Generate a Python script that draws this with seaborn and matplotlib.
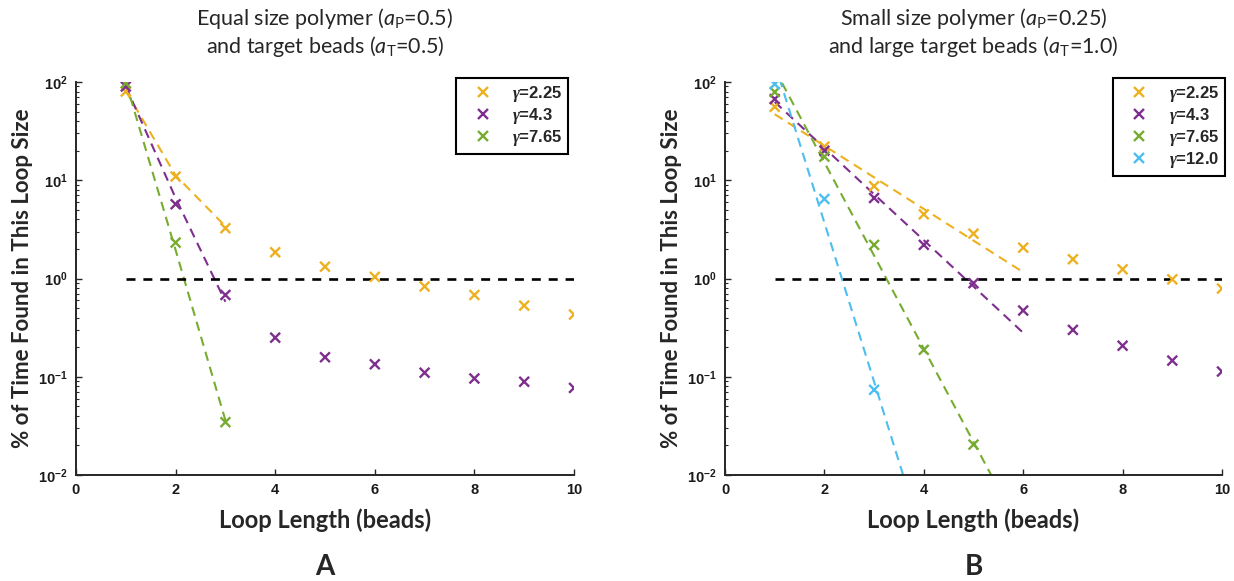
import numpy as np
import pandas as pd
import matplotlib
matplotlib.use("Agg")
import matplotlib.pyplot as plt
import seaborn as sns
from matplotlib.ticker import FixedLocator, FixedFormatter, LogLocator, NullFormatter

sns.set_theme(style="ticks")
plt.rcParams["font.family"] = ["Lato", "DejaVu Sans"]
plt.rcParams["mathtext.fontset"] = "custom"
plt.rcParams["mathtext.rm"] = "Lato"
plt.rcParams["mathtext.sf"] = "Lato:italic"
plt.rcParams["mathtext.it"] = "Liberation Serif:italic:bold"
plt.rcParams["mathtext.bf"] = "Liberation Sans:bold"

# ---- data -------------------------------------------------------------
loop_len = [1, 2, 3, 4, 5, 6, 7, 8, 9, 10]
gammas = ["2.25", "4.3", "7.65", "12.0"]
colors = ["#EDB120", "#7E2F8E", "#77AC30", "#4DBEEE"]

# Panel A: equal size polymer and target beads
a_g225 = [80, 10.9, 3.25, 1.85, 1.32, 1.04, 0.83, 0.68, 0.53, 0.43]
a_g43 = [90, 5.7, 0.68, 0.25, 0.158, 0.134, 0.110, 0.096, 0.089, 0.077]
a_g765 = [97, 2.32, 0.0345]
a_fit_x = [1, 2, 3]
a_fit_g225 = [81, 11.2, 3.4]
a_fit_g43 = [90, 6.6, 0.58]
a_fit_g765 = [100, 1.95, 0.036]

# Panel B: small polymer, large target beads
b_g225 = [56, 22.0, 8.7, 4.5, 2.86, 2.06, 1.57, 1.24, 0.98, 0.79]
b_g43 = [67, 20.0, 6.6, 2.2, 0.895, 0.472, 0.30, 0.207, 0.146, 0.113]
b_g765 = [79, 17.4, 2.2, 0.188, 0.0204]
b_g120 = [95, 6.45, 0.0736]
b_fit_x = [1, 2, 3, 4, 5, 6]
b_fit_g225 = [47, 22.4, 10.7, 5.1, 2.43, 1.16]
b_fit_g43 = [62.7, 21.3, 7.2, 2.45, 0.83, 0.28]
b_fit_g765 = [135, 15.2, 1.71, 0.193, 0.0217, 0.00245]
b_fit_g120 = [155, 3.7, 0.089, 0.0021, 5.0e-5, 1.2e-6]

ref_x = [1, 10]
ref_y = [1.0, 1.0]

x_ticks = [0, 2, 4, 6, 8, 10]
x_tick_labels = ["0", "2", "4", "6", "8", "10"]
y_ticks = [1e-2, 1e-1, 1e0, 1e1, 1e2]
y_tick_labels = [r"$\mathbf{10^{-2}}$", r"$\mathbf{10^{-1}}$", r"$\mathbf{10^{0}}$",
                 r"$\mathbf{10^{1}}$", r"$\mathbf{10^{2}}$"]

titles = [
    "Equal size polymer ($\\mathsf{a}_{\\mathrm{P}}$=0.5)\nand target beads ($\\mathsf{a}_{\\mathrm{T}}$=0.5)",
    "Small size polymer ($\\mathsf{a}_{\\mathrm{P}}$=0.25)\nand large target beads ($\\mathsf{a}_{\\mathrm{T}}$=1.0)",
]
panel_tags = ["A", "B"]
x_label = "Loop Length (beads)"
y_label = "% of Time Found in This Loop Size"

panels = [
    dict(points=[a_g225, a_g43, a_g765], fit_x=a_fit_x,
         fits=[a_fit_g225, a_fit_g43, a_fit_g765]),
    dict(points=[b_g225, b_g43, b_g765, b_g120], fit_x=b_fit_x,
         fits=[b_fit_g225, b_fit_g43, b_fit_g765, b_fit_g120]),
]

# ---- figure -----------------------------------------------------------
fig = plt.figure(figsize=(12.34, 5.81), dpi=100)
ax_rects = [[76 / 1234, 106 / 581, 498 / 1234, 393 / 581],
            [725 / 1234, 106 / 581, 497 / 1234, 393 / 581]]
legend_right = [0.988, 1.006]
axis_color = "#262626"

for i, (rect, spec) in enumerate(zip(ax_rects, panels)):
    ax = fig.add_axes(rect)
    ax.set_yscale("log")
    n = len(spec["points"])
    labels = [f"$\\gamma$=" + g for g in gammas[:n]]
    pal = dict(zip(labels, colors[:n]))

    # fitted decay curves
    for lab, fit in zip(labels, spec["fits"]):
        sns.lineplot(x=spec["fit_x"], y=fit, ax=ax, color=pal[lab],
                     linestyle=(0, (4.5, 3.0)), linewidth=1.5, legend=False,
                     sort=False, estimator=None, zorder=2)

    # reference level at 1 %
    sns.lineplot(x=ref_x, y=ref_y, ax=ax, color="black",
                 linestyle=(0, (3.4, 3.0)), linewidth=1.9, legend=False,
                 estimator=None, zorder=2)

    # measured occupancy
    rows = []
    for lab, vals in zip(labels, spec["points"]):
        for xv, yv in zip(loop_len, vals):
            rows.append({"loop": xv, "pct": yv, "gamma": lab})
    df = pd.DataFrame(rows)
    sns.scatterplot(data=df, x="loop", y="pct", hue="gamma", hue_order=labels,
                    palette=pal, marker="x", s=50, linewidth=1.7, ax=ax,
                    zorder=3)

    ax.set_xlim(0, 10)
    ax.set_ylim(1e-2, 1e2)
    ax.xaxis.set_major_locator(FixedLocator(x_ticks))
    ax.xaxis.set_major_formatter(FixedFormatter(x_tick_labels))
    ax.yaxis.set_major_locator(FixedLocator(y_ticks))
    ax.yaxis.set_major_formatter(FixedFormatter(y_tick_labels))
    ax.yaxis.set_minor_locator(LogLocator(base=10, subs=np.arange(2, 10)))
    ax.yaxis.set_minor_formatter(NullFormatter())

    for side in ["top", "right"]:
        ax.spines[side].set_visible(False)
    for side in ["left", "bottom"]:
        ax.spines[side].set_color(axis_color)
        ax.spines[side].set_linewidth(1.4)
    ax.tick_params(axis="both", which="major", direction="in", length=4,
                   width=1.0, color=axis_color, labelsize=10.5, pad=6,
                   labelcolor="#1a1a1a")
    ax.tick_params(axis="y", which="minor", direction="in", length=2.2,
                   width=0.8, color=axis_color)
    for lbl in ax.get_xticklabels():
        lbl.set_fontfamily("Liberation Sans")
        lbl.set_fontweight("bold")

    ax.set_xlabel(x_label, fontsize=17, fontweight="bold", labelpad=8)
    ax.set_ylabel(y_label, fontsize=16, fontweight="bold")
    ax.yaxis.set_label_coords(-0.086, 0.5)
    ax.set_title(titles[i], fontsize=15.5, pad=21, linespacing=1.15)

    leg = ax.legend(loc="upper right",
                    bbox_to_anchor=(legend_right[i], 1.01),
                    frameon=True, fancybox=False, edgecolor="black",
                    framealpha=1, borderpad=0.35, labelspacing=0.12,
                    handletextpad=0.5, handlelength=2.5, borderaxespad=0,
                    markerscale=1.05,
                    prop={"family": "Liberation Sans", "weight": "bold",
                          "size": 12})
    leg.get_frame().set_linewidth(1.5)

    cx = rect[0] + rect[2] / 2
    fig.text(cx, 14 / 581, panel_tags[i], ha="center", va="center",
             fontsize=20, fontweight="bold")

fig.savefig("out.png", dpi=100)
